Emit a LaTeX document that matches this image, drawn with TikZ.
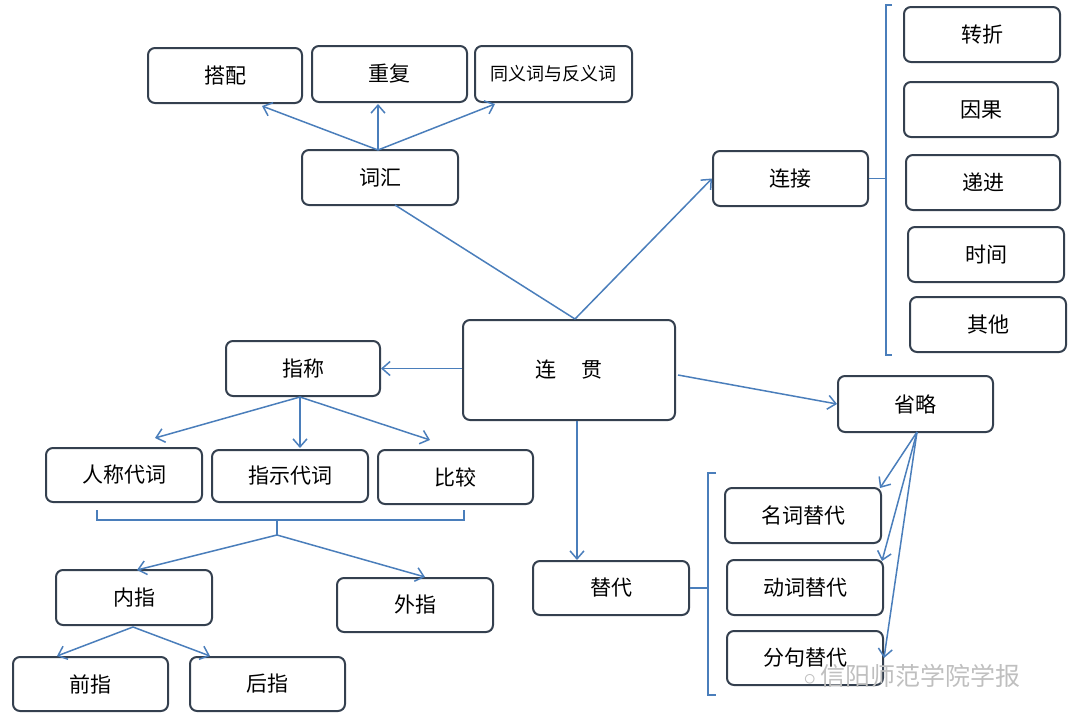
\documentclass[tikz,border=0pt]{standalone}
\usepackage{fontspec}
\setmainfont{Noto Sans CJK SC}
\usetikzlibrary{arrows.meta}
\definecolor{bd}{HTML}{34404F}
\definecolor{ln}{HTML}{4A7EBB}
\begin{document}
\begin{tikzpicture}[x=1pt,y=-1pt,
 box/.style={draw=bd,line width=2pt,rounded corners=7pt,fill=white,inner sep=0pt,font=\fontsize{21}{24}\selectfont},
 ar/.style={draw=ln,line width=1.5pt,-{Straight Barb[length=8pt,width=14pt,line width=1.5pt]}},
 ln/.style={draw=ln,line width=1.5pt}]
\useasboundingbox (0,0) rectangle (1080,723);
\newcommand\bx[6]{\node[box,minimum width=#4-#2,minimum height=#5-#3] (#1) at ({(#2+#4)/2},{(#3+#5)/2}) {#6};}
\bx{dp}{148}{48}{302}{103}{搭配}
\bx{cf}{312}{46}{467}{102}{重复}
\bx{ty}{475}{46}{632}{102}{\fontsize{18}{20}\selectfont 同义词与反义词}
\bx{ch}{302}{150}{458}{205}{词汇}
\bx{lj}{713}{151}{868}{206}{连接}
\bx{zz}{904}{7}{1060}{62}{转折}
\bx{yg}{904}{82}{1058}{137}{因果}
\bx{dj}{906}{155}{1060}{210}{递进}
\bx{sj}{908}{227}{1064}{282}{时间}
\bx{qt}{910}{297}{1066}{352}{其他}
\bx{lg}{463}{320}{675}{420}{连\hspace{1.2em}贯}
\bx{zc}{226}{341}{380}{396}{指称}
\bx{rc}{46}{448}{202}{502}{人称代词}
\bx{zs}{212}{450}{368}{502}{指示代词}
\bx{bj}{378}{450}{533}{504}{比较}
\bx{nz}{56}{570}{212}{625}{内指}
\bx{wz}{337}{578}{493}{632}{外指}
\bx{qz}{13}{657}{168}{711}{前指}
\bx{hz}{190}{657}{345}{711}{后指}
\bx{sl}{838}{376}{993}{432}{省略}
\bx{td}{533}{561}{689}{615}{替代}
\bx{mc}{725}{488}{881}{543}{名词替代}
\bx{dc}{727}{560}{883}{615}{动词替代}
\bx{fj}{727}{631}{883}{685}{分句替代}
% vocabulary
\coordinate (chT) at (378,150);
\draw[ar] (chT) -- (262,106);
\draw[ar] (chT) -- (378,104);
\draw[ar] (chT) -- (495,104);
\coordinate (lgT) at (575,319);
\draw[ln] (395,205) -- (lgT);
\draw[ar] (lgT) -- (lj.west);
% connection bracket
\draw[ln] (lj.east) -- (886,178.5);
\draw[ln] (892,5) -- (886,5) -- (886,355) -- (892,355);
% main arrows
\draw[ar] (lg.west |- zc.east) -- (zc.east);
\draw[ar] (678,375) -- (sl.west);
\draw[ar] (577,421) -- (577,560);
% reference
\coordinate (zcB) at (300,397);
\draw[ar] (zcB) -- (155,438);
\draw[ar] (zcB) -- (300,448);
\draw[ar] (zcB) -- (430,440);
\coordinate (br) at (277,535);
\draw[ln] (97,510) -- (97,520) -- (464,520) -- (464,510);
\draw[ln] (277,520) -- (br);
\draw[ar] (br) -- (137,570);
\draw[ar] (br) -- (425,577);
\coordinate (nzB) at (133,627);
\draw[ar] (nzB) -- (57,656);
\draw[ar] (nzB) -- (210,656);
% ellipsis
\coordinate (slB) at (917,432);
\draw[ar] (slB) -- (880,488);
\draw[ar] (slB) -- (882,561);
\draw[ar] (slB) -- (884,658);
% substitution bracket
\draw[ln] (td.east) -- (708,588);
\draw[ln] (716,473) -- (708,473) -- (708,695) -- (716,695);
% watermark
\node[text=gray!50,font=\fontsize{25}{28}\selectfont,anchor=west] (wm) at (800,676) {$\circ$\,信阳师范学院学报};
\end{tikzpicture}
\end{document}
